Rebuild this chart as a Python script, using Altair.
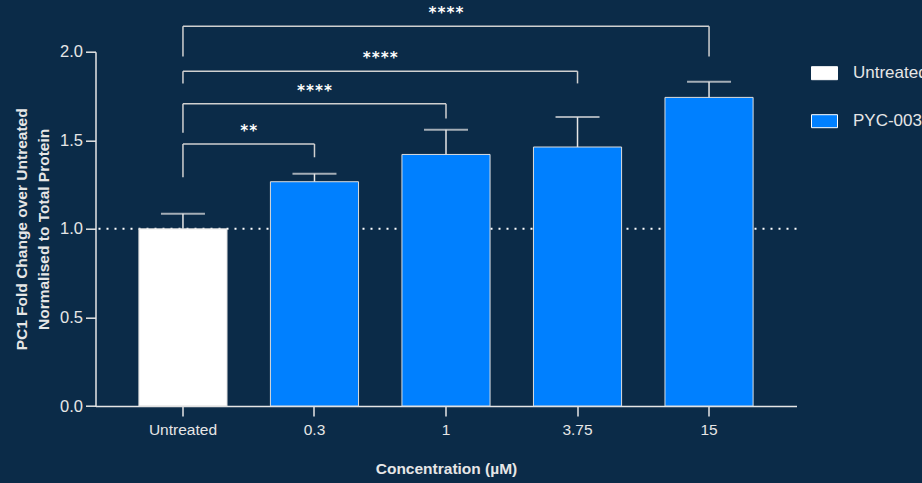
import altair as alt
import pandas as pd

categories = ["Untreated", "0.3", "1", "3.75", "15"]
groups = ["Untreated", "PYC-003", "PYC-003", "PYC-003", "PYC-003"]
means = [1.0, 1.266, 1.420, 1.462, 1.742]
err_top = [1.085, 1.311, 1.559, 1.631, 1.830]

cmp_to = ["0.3", "1", "3.75", "15"]
cmp_y = [1.479, 1.706, 1.890, 2.144]
cmp_left_bottom = [1.291, 1.542, 1.821, 1.973]
cmp_right_bottom = [1.404, 1.623, 1.821, 1.973]
cmp_label = ["**", "****", "****", "****"]
cmp_text_y = [1.554, 1.779, 1.966, 2.219]

BG = "#0B2B48"
FG = "#E6E6E6"
BLUE = "#0080FF"
FONT = "Liberation Sans, Arial"
FS = 15.5

bars = pd.DataFrame({"cat": categories, "group": groups, "mean": means, "err": err_top})
brk = pd.DataFrame({
    "left": ["Untreated"] * 4, "right": cmp_to, "y": cmp_y,
    "lb": cmp_left_bottom, "rb": cmp_right_bottom,
    "label": cmp_label, "ty": cmp_text_y,
})
# index positions of bracket ends -> midpoint for the significance label
brk["li"] = [categories.index(c) for c in brk["left"]]
brk["ri"] = [categories.index(c) for c in brk["right"]]
brk["mid"] = (brk["li"] + brk["ri"]) / 2
line_df = pd.DataFrame({"v": [1.0]})

PI, PO = 0.33, 0.33
xscale = alt.Scale(domain=categories, paddingInner=PI, paddingOuter=PO)
# equivalent linear scale on category index (band centres at integer positions)
edge = PO + (1 - PI) / 2
xlin = alt.Scale(domain=[-edge, len(categories) - 1 + edge], nice=False, zero=False)
yscale = alt.Scale(domain=[0, 2.0], nice=False, zero=True)

xenc = alt.X("cat:N", scale=xscale, sort=categories,
             axis=alt.Axis(title="Concentration (µM)", labelAngle=0, tickSize=10,
                           labelPadding=6, titlePadding=24))
yenc = alt.Y("mean:Q", scale=yscale,
             axis=alt.Axis(title=["PC1 Fold Change over Untreated", "Normalised to Total Protein"],
                           values=[0, 0.5, 1.0, 1.5, 2.0], format=".1f", tickSize=10,
                           labelPadding=3, titlePadding=8, grid=False))

dotted = alt.Chart(line_df).mark_rule(color="white", strokeDash=[2, 6], strokeWidth=2).encode(
    y=alt.Y("v:Q", scale=yscale)
)

bar = alt.Chart(bars).mark_bar(stroke="#DDDDDD", strokeWidth=1).encode(
    x=xenc, y=yenc,
    color=alt.Color("group:N", scale=alt.Scale(domain=["Untreated", "PYC-003"], range=["#FFFFFF", BLUE]),
                    legend=alt.Legend(title=None, orient="none", legendX=715.5, legendY=8,
                                      symbolType="M-1,-0.5H1V0.5H-1Z", symbolSize=676,
                                      symbolStrokeColor="#FFFFFF", symbolStrokeWidth=1,
                                      labelFontSize=17, labelColor=FG, labelFont=FONT,
                                      labelOffset=15, rowPadding=26, padding=0)),
)

err_rule = alt.Chart(bars).mark_rule(color=FG, strokeWidth=1.5).encode(
    x=alt.X("cat:N", scale=xscale, sort=categories),
    y=alt.Y("mean:Q", scale=yscale), y2="err:Q",
)
err_cap = alt.Chart(bars).mark_tick(color=FG, thickness=2, size=44).encode(
    x=alt.X("cat:N", scale=xscale, sort=categories),
    y=alt.Y("err:Q", scale=yscale),
)

b_h = alt.Chart(brk).mark_rule(color="#D0D0D0", strokeWidth=1.5).encode(
    x=alt.X("left:N", scale=xscale, sort=categories), x2="right:N",
    y=alt.Y("y:Q", scale=yscale),
)
b_l = alt.Chart(brk).mark_rule(color="#D0D0D0", strokeWidth=1.5).encode(
    x=alt.X("left:N", scale=xscale, sort=categories),
    y=alt.Y("y:Q", scale=yscale), y2="lb:Q",
)
b_r = alt.Chart(brk).mark_rule(color="#D0D0D0", strokeWidth=1.5).encode(
    x=alt.X("right:N", scale=xscale, sort=categories),
    y=alt.Y("y:Q", scale=yscale), y2="rb:Q",
)

txt = alt.Chart(brk).mark_text(color="#FFFFFF", fontSize=15, font="DejaVu Sans Mono", fontWeight="bold",
                               baseline="middle").encode(
    x=alt.X("mid:Q", scale=xlin, axis=None),
    y=alt.Y("ty:Q", scale=yscale),
    text="label:N",
)

base = alt.layer(dotted, bar, err_rule, err_cap, b_h, b_l, b_r)

chart = alt.layer(base, txt).resolve_scale(
    x="independent"
).properties(
    width=701, height=354.3,
    padding={"left": 95.5, "top": 51.7, "right": 125.5, "bottom": 77},
    autosize=alt.AutoSizeParams(type="none"),
    background=BG,
).configure_view(stroke=None).configure_axis(
    domainColor=FG, tickColor=FG, labelColor=FG, titleColor=FG,
    labelFont=FONT, titleFont=FONT, labelFontSize=FS, titleFontSize=FS,
    titleFontWeight="bold", domainWidth=1.5, tickWidth=1.5, labelFontWeight="normal",
).configure_axisY(titleLineHeight=22, labelFontSize=16.5)

chart.save("out.html", embed_options={"renderer": "svg", "actions": False})
